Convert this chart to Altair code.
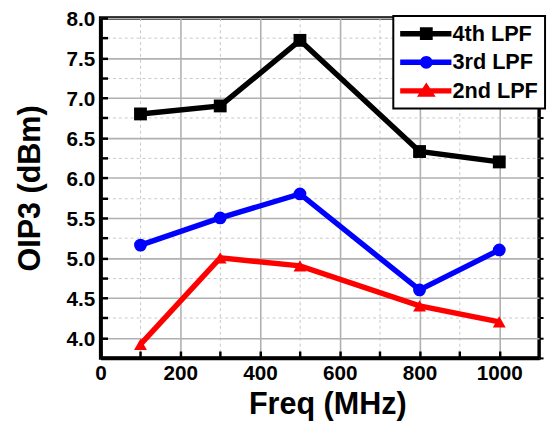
import altair as alt
import pandas as pd

# ---- data ----
freq = [100, 300, 500, 800, 1000]
series_names = ["4th LPF", "3rd LPF", "2nd LPF"]
oip3_4th = [6.80, 6.90, 7.72, 6.33, 6.20]
oip3_3rd = [5.16, 5.50, 5.80, 4.60, 5.10]
oip3_2nd = [3.92, 5.00, 4.90, 4.40, 4.20]
series_colors = ["#000000", "#0000ff", "#ff0000"]
series_shapes = ["square", "circle", "triangle-up"]
x_ticks = [0, 100, 200, 300, 400, 500, 600, 700, 800, 900, 1000]
y_ticks = [3.75, 4.0, 4.25, 4.5, 4.75, 5.0, 5.25, 5.5, 5.75, 6.0,
           6.25, 6.5, 6.75, 7.0, 7.25, 7.5, 7.75, 8.0]

# legend symbols: line segment + marker (custom SVG paths)
LINE = "M-2.2,-0.55H8.2V0.55H-2.2Z "
legend_paths = [
    LINE + "M1.8,-1.3H4.4V1.3H1.8Z",
    LINE + "M1.8,0A1.3,1.3 0 1,1 4.4,0A1.3,1.3 0 1,1 1.8,0Z",
    LINE + "M3.1,-1.7L5.0,1.2H1.2Z",
]
# drop shadow behind the legend box (one filled rectangle symbol)
shadow_path = "M-1,-1H29.4V18.4H-1Z"

values = [oip3_4th, oip3_3rd, oip3_2nd]
rows = []
for name, col, shp, vals in zip(series_names, series_colors, series_shapes, values):
    for f, v in zip(freq, vals):
        rows.append({"freq": f, "oip3": v, "series": name, "color": col, "shape": shp})
df = pd.DataFrame(rows)
legend_df = pd.DataFrame({"series": series_names})
shadow_df = pd.DataFrame({"shadow": ["box"]})

FONT = "Liberation Sans"

x_axis = alt.Axis(
    values=x_ticks, title="Freq (MHz)", format="d",
    labelExpr="datum.value % 200 == 0 ? datum.label : ''",
    labelFlush=False, labelOverlap=False,
    tickSize={"expr": "-7"}, tickWidth=2.5, tickColor="black",
    domainColor="black", domainWidth=3.5,
    labelFont=FONT, labelFontSize=21, labelFontWeight="bold", labelColor="black",
    labelPadding=12,
    titleFont=FONT, titleFontSize=31, titleFontWeight="bold", titleColor="black",
    titlePadding=6, titleX=230,
    grid=True,
    gridColor={"condition": {"test": "datum.value % 200 == 0", "value": "#b0b0b0"}, "value": "#c8c8c8"},
    gridDash={"condition": {"test": "datum.value % 200 == 0", "value": []}, "value": [3, 3]},
    gridWidth={"condition": {"test": "datum.value % 200 == 0", "value": 1.6}, "value": 1},
)

y_axis = alt.Axis(
    values=y_ticks, title="OIP3 (dBm)",
    labelExpr="(round(datum.value * 4) % 2 == 0) ? format(datum.value, '.1f') : ''",
    labelOverlap=False, labelOffset=2,
    tickSize={"expr": "-7"}, tickWidth=2.5, tickColor="black",
    domainColor="black", domainWidth=3.5,
    labelFont=FONT, labelFontSize=21, labelFontWeight="bold", labelColor="black",
    labelPadding=13,
    titleFont=FONT, titleFontSize=31, titleFontWeight="bold", titleColor="black",
    titlePadding=20,
    grid=True,
    gridColor={"condition": {"test": "round(datum.value * 4) % 2 == 0", "value": "#b0b0b0"}, "value": "#c8c8c8"},
    gridDash={"condition": {"test": "round(datum.value * 4) % 2 == 0", "value": []}, "value": [3, 3]},
    gridWidth={"condition": {"test": "round(datum.value * 4) % 2 == 0", "value": 1.6}, "value": 1},
)

y_axis_right = alt.Axis(
    orient="right", values=y_ticks, labels=False, title=None, grid=False,
    domain=False, tickSize=4, tickWidth=2, tickColor="black",
)

x_enc = alt.X("freq:Q", scale=alt.Scale(domain=[0, 1100], nice=False, zero=False), axis=x_axis)
y_scale = alt.Scale(domain=[3.75, 8.0], nice=False, zero=False)

base = alt.Chart(df)

lines = base.mark_line(strokeWidth=5.5).encode(
    x=x_enc,
    y=alt.Y("oip3:Q", scale=y_scale, axis=y_axis),
    color=alt.Color("color:N", scale=None),
    detail="series:N",
)

points = base.mark_point(filled=True, size=170, opacity=1).encode(
    x=x_enc,
    y=alt.Y("oip3:Q", scale=y_scale, axis=y_axis_right),
    color=alt.Color("color:N", scale=None),
    shape=alt.Shape("shape:N", scale=None),
)

LEG_X, LEG_Y = 297, -2
leg = alt.Legend(
    title=None, orient="none", legendX=LEG_X, legendY=LEG_Y,
    symbolSize=100, symbolStrokeWidth=0, symbolOpacity=1,
    labelFont=FONT, labelFontSize=22, labelFontWeight="bold", labelColor="black",
    labelOffset=31, labelLimit=300, padding=7, rowPadding=7,
    strokeColor="black", fillColor="white", zindex=2,
)

legend_layer = alt.Chart(legend_df).transform_filter("false").mark_point(filled=True, opacity=1).encode(
    color=alt.Color("series:N", scale=alt.Scale(domain=series_names, range=series_colors), legend=leg),
    shape=alt.Shape("series:N", scale=alt.Scale(domain=series_names, range=legend_paths), legend=leg),
)

shadow_leg = alt.Legend(
    title=None, orient="none", legendX=LEG_X + 9, legendY=LEG_Y + 9,
    symbolType=shadow_path, symbolSize=100, symbolStrokeWidth=0,
    symbolFillColor="black", symbolOpacity=1, labelExpr="''",
    labelOffset=0, padding=0, zindex=1,
)
shadow_layer = alt.Chart(shadow_df).mark_point(opacity=0, size=0).encode(
    strokeDash=alt.StrokeDash("shadow:N", legend=shadow_leg),
)

chart = alt.layer(lines, points, shadow_layer, legend_layer).resolve_axis(y="independent").properties(
    width=445, height=345,
    autosize=alt.AutoSizeParams(type="none"),
    padding={"left": 94, "top": 7, "right": 9, "bottom": 66},
).configure_view(stroke="black", strokeWidth=3.5).configure_legend(strokeWidth=2)

chart.save("out.html", embed_options={"renderer": "svg", "actions": False})
